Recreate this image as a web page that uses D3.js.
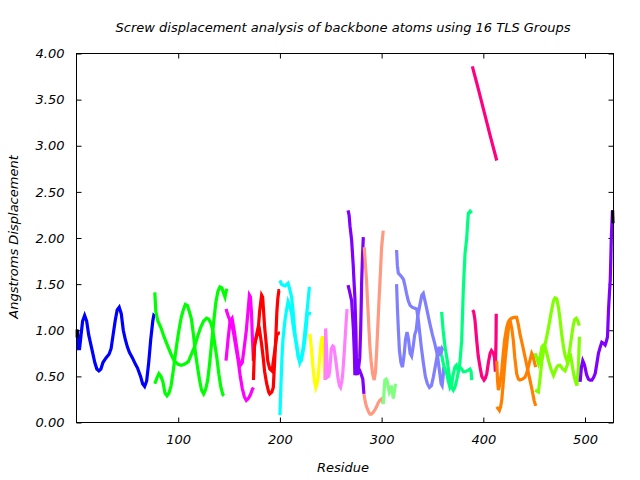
<!DOCTYPE html>
<html><head><meta charset="utf-8">
<script src="https://cdn.jsdelivr.net/npm/d3@7"></script>
<style>
html,body{margin:0;padding:0;background:#fff;}
text{font-family:"DejaVu Sans",sans-serif;font-style:italic;fill:#000;}
</style></head>
<body><svg id="c" width="640" height="480"></svg>
<script>
// ---- data (residue, displacement in Angstroms) ----
const titleText = "Screw displacement analysis of backbone atoms using 16 TLS Groups";
const xLabel = "Residue";
const yLabel = "Angstroms Displacement";
const xTicks = [100, 200, 300, 400, 500];
const yTicks = [0, 0.5, 1, 1.5, 2, 2.5, 3, 3.5, 4];
const groupColors = ["#0000ff","#00ff00","#ff00ff","#ff0000","#00ffff","#ffff00","#ff80ff","#8000ff",
  "#ff9980","#80ff80","#8080ff","#00ff80","#ff0080","#ff8000","#80ff00","#8000ff"];

const g1a = [[1,1.0],[2,0.8],[3,0.8],[4,0.9],[6,1.1],[8,1.16],[10,1.1],[12,0.95],[15,0.8],[18,0.65],[20,0.58],[22,0.56],[24,0.58],[26,0.65],[29,0.7],[32,0.74],[34,0.8],[36,0.95],[38,1.1],[40,1.22],[42,1.25],[44,1.18],[46,1.0],[48,0.9],[50,0.82],[52,0.76],[55,0.7],[58,0.63],[60,0.59],[63,0.5],[65,0.42],[67,0.39],[69,0.45],[71,0.65],[73,0.9],[75,1.1],[76,1.16],[77,1.15]];
const g2a = [[77,1.41],[78,1.2],[80,1.1],[83,1.03],[86,0.93],[90,0.82],[93,0.74],[96,0.67],[100,0.63],[103,0.62],[106,0.63],[110,0.66],[113,0.74],[116,0.82],[119,0.93],[122,1.03],[125,1.1],[128,1.13],[130,1.12],[132,1.08],[134,1.0],[136,0.85],[138,0.7],[140,0.52],[142,0.38],[144,0.3],[145,0.29]];
const g2b = [[77,0.42],[79,0.48],[81,0.53],[83,0.5],[85,0.44],[87,0.32],[89,0.29],[91,0.32],[93,0.4],[95,0.55],[97,0.72],[99,0.88],[101,1.02],[103,1.14],[105,1.22],[107,1.28],[109,1.27],[111,1.2],[113,1.12],[115,0.95],[117,0.75],[119,0.6],[121,0.46],[123,0.35],[125,0.31],[127,0.36],[129,0.46],[131,0.65],[133,0.88],[135,1.1],[137,1.3],[139,1.42],[141,1.47],[143,1.46],[144,1.42],[146,1.36],[147,1.42],[148,1.45]];
const g3a = [[147,1.23],[149,1.16],[151,1.1],[154,1.0],[157,0.8],[159,0.67],[161,0.5],[163,0.37],[165,0.28],[167,0.24],[169,0.26],[171,0.3],[173,0.36],[174,0.38]];
const g3b = [[147,0.67],[149,0.9],[151,1.1],[153,1.13],[155,1.0],[157,0.85],[159,0.7],[161,0.62],[163,0.65],[165,0.82],[167,1.0],[169,1.25],[170,1.38],[171,1.36],[172,1.2],[173,0.9],[174,0.67]];
const g4a = [[174,0.46],[175,0.82],[177,0.95],[179,1.05],[180,1.2],[182,1.38],[183,1.36],[184,1.2],[185,1.03],[187,0.8],[188,0.67],[190,0.58],[192,0.56],[193,0.62],[195,0.78],[197,0.95],[199,0.97],[200,0.97]];
const g4b = [[174,0.67],[175,0.85],[177,0.93],[179,0.98],[180,1.0],[182,0.85],[183.5,0.71],[185,0.55],[187,0.42],[189,0.33],[190,0.31],[192,0.33],[193.5,0.38],[195,0.7],[196,0.93],[197,1.2],[198,1.35],[199,1.43],[200,1.43]];
const g5a = [[200,0.08],[201,0.4],[202,0.7],[203,0.9],[205,1.11],[206.5,1.22],[208,1.31],[210,1.25],[211.5,1.18],[213,1.05],[215,0.92],[216.5,0.85],[218,0.72],[219.5,0.65],[221,0.7],[223,0.82],[224.5,0.98],[226,1.14],[227.5,1.3],[229,1.47]];
const g5b = [[200,1.54],[201.5,1.5],[203,1.49],[205,1.48],[208,1.51],[209.5,1.45],[211.5,1.36],[213,1.2],[214.5,1.0],[216,0.85],[218,0.71],[220,0.66],[221,0.67],[223,0.78],[224.5,0.89],[226,1.05],[227,1.18],[229,1.18],[229.5,1.2]];
const g6a = [[229.5,0.96],[231,0.8],[232.5,0.6],[234,0.45],[235.3,0.38],[236.5,0.42],[237.6,0.49],[239,0.68],[240.5,0.88],[241.5,0.92],[242.5,0.92],[243.2,0.7],[244,0.46]];
const g7a = [[244.5,0.46],[245,1.02],[246,0.75],[246.6,0.49],[248,0.5],[249,0.56],[250.5,0.8],[252,0.83],[253,0.82],[255,0.67],[257,0.49],[258.5,0.4],[259.6,0.38],[261,0.45],[262,0.56],[263.5,0.8],[265,1.07],[266,1.23]];
const g8a = [[267,2.30],[268,2.25],[269,2.12],[270.5,1.98],[272,1.72],[273,1.5],[273.7,1.36],[274.7,1.0],[275.2,0.7],[275.5,0.53],[276.5,0.53],[277.5,0.55],[278.6,0.56],[280,0.52],[281.5,0.47],[282,0.4],[282.6,0.31]];
const g8b = [[267,1.49],[268.5,1.42],[270.5,1.32],[271.5,1.15],[272.3,1.0],[273.2,0.75],[273.7,0.53],[275,0.53],[277,0.56],[278.5,0.7],[279.4,1.0],[280,1.3],[280.4,1.54],[281.2,1.8],[282,2.01]];
const g9a = [[283,1.9],[284,1.72],[285.2,1.54],[286,1.35],[286.8,1.18],[287.6,1.0],[288.5,0.82],[289.8,0.65],[291.1,0.53],[292.7,0.46],[294,0.55],[295,0.75],[296.3,1.05],[297.6,1.36],[298.8,1.62],[300,1.9],[301.6,2.08]];
const g9b = [[282.6,0.31],[284,0.22],[285.2,0.17],[287,0.12],[288.5,0.09],[290,0.09],[291.7,0.11],[293.5,0.14],[295,0.17],[296.5,0.21],[298.2,0.24],[300.5,0.26],[301.6,0.2]];
const g10a = [[301.6,0.2],[302.5,0.35],[303.2,0.46],[304.5,0.47],[305.5,0.45],[306.5,0.38],[307.5,0.33],[308.5,0.36],[309.5,0.4],[310.5,0.33],[311.5,0.26],[312.5,0.33],[313.7,0.42]];
const g11a = [[314.7,1.87],[315.5,1.7],[316.4,1.62],[318,1.6],[319.7,1.58],[321.5,1.55],[323,1.48],[324.5,1.4],[326.2,1.32],[328,1.27],[330,1.25],[332,1.24],[334.5,1.23],[336,1.12],[337.5,0.97],[339,0.82],[341,0.65],[343,0.5],[345,0.42],[347,0.38],[349,0.4],[351,0.5],[353,0.62],[355,0.75],[356.5,0.82],[358,0.72],[359.5,0.8],[360.5,0.78]];
const g11b = [[314.7,1.5],[315.5,1.25],[316.5,1.0],[317.5,0.78],[319,0.65],[320.5,0.6],[322,0.72],[323.5,0.9],[325,0.98],[326.5,0.9],[328,0.75],[329.5,0.72],[331,0.82],[332.5,0.95],[334,1.0],[335.5,1.15],[337.7,1.28],[339.5,1.38],[341,1.4],[344,1.25],[347.5,1.07],[350,0.95],[352.4,0.85],[355,0.72],[357,0.55],[358.5,0.42],[359.5,0.4],[360.5,0.5],[361,0.6]];
const g12a = [[359,1.2],[360.5,1.0],[362.3,0.82],[364.6,0.67],[366,0.55],[367.2,0.46],[369,0.38],[370.5,0.35],[372,0.38],[373.8,0.46],[375.5,0.55],[377,0.65],[378.7,0.89],[379.5,1.15],[380.3,1.43],[381,1.6],[382,1.83],[383.7,2.0],[384.5,2.15],[385.3,2.27],[387,2.29],[388.6,2.27]];
const g12b = [[359,0.73],[361,0.62],[364,0.53],[365.5,0.45],[367.2,0.38],[369,0.42],[370,0.5],[372,0.6],[373.5,0.62],[375.3,0.56],[377,0.6],[378.7,0.58],[380.3,0.55],[382,0.55],[384,0.56],[386.9,0.58],[388,0.55],[388.6,0.46]];
const g13a = [[389.2,3.86],[395,3.62],[401,3.36],[407,3.1],[413.2,2.84]];
const g13b = [[389.5,1.22],[390.5,1.2],[391.8,1.11],[393.5,0.89],[395,0.72],[396.8,0.6],[398.5,0.5],[400.7,0.46],[402,0.48],[403.4,0.53],[405,0.65],[406.7,0.75],[408,0.78],[410,0.75],[411,0.7],[411.8,0.55],[412.5,0.9],[412.7,1.18]];
const g14a = [[413.2,0.67],[414,0.45],[414.8,0.35],[416,0.4],[418,0.55],[419.6,0.75],[421,0.9],[423,1.03],[424.5,1.09],[426.2,1.11],[428,1.02],[429.5,0.89],[431,0.7],[432.8,0.53],[434.5,0.47],[436,0.46],[438.5,0.47],[441,0.49],[442.5,0.53],[444.2,0.6],[446,0.68],[447.6,0.75],[449,0.72],[450.5,0.64],[451.5,0.6]];
const g14b = [[413.2,0.17],[414.5,0.15],[415.8,0.13],[417,0.17],[418.1,0.24],[419.5,0.42],[421.4,0.67],[423.5,0.9],[425.6,1.11],[428,1.13],[430,1.14],[432.8,1.14],[434.5,1.06],[436,0.96],[438.5,0.84],[441,0.71],[443.5,0.58],[445.9,0.46],[448,0.35],[449.9,0.24],[451.5,0.18]];
const g15a = [[450.9,0.75],[452.5,0.7],[454.2,0.64],[456,0.72],[457.6,0.82],[459,0.84],[460.8,0.85],[462.5,0.94],[464.1,1.03],[466.5,1.18],[469,1.32],[470.5,1.35],[472.2,1.34],[474,1.24],[475.5,1.11],[477,0.96],[478.8,0.82],[480.5,0.72],[482.2,0.67],[484,0.73],[485.4,0.82],[487,0.95],[488.7,1.07],[490,1.12],[491.4,1.13],[493,1.1],[494.3,1.05]];
const g15b = [[450.9,0.35],[452.5,0.34],[454.2,0.33],[456,0.5],[457.6,0.67],[459,0.76],[460.8,0.82],[462.5,0.75],[464.1,0.67],[466.5,0.58],[469,0.51],[470.5,0.55],[472.2,0.6],[474,0.62],[475.5,0.62],[478,0.58],[480.4,0.56],[482.5,0.62],[485.4,0.75],[487,0.65],[488.7,0.53],[490.5,0.45],[492,0.4],[493.5,0.6],[494.5,0.93]];
const g16a = [[495.2,0.44],[496.5,0.6],[497.8,0.67],[499,0.64],[500,0.6],[501.5,0.52],[503.3,0.47],[505,0.46],[506.7,0.46],[508.5,0.49],[510,0.53],[511.5,0.63],[513.2,0.75],[515,0.82],[516.5,0.87],[518,0.86],[519.8,0.84],[521,0.88],[522.1,0.93],[523.1,1.22],[524,1.4],[524.8,1.54],[525.3,1.75],[525.8,1.98],[526.4,2.15],[527,2.30]];
const blackStart = [[0.6,1.01],[0.6,0.92]];
const blackEnd = [[527.2,2.30],[527.6,2.16]];

const groups = [[g1a],[g2a,g2b],[g3a,g3b],[g4a,g4b],[g5a,g5b],[g6a],[g7a],[g8a,g8b],[g9a,g9b],[g10a],[g11a,g11b],[g12a,g12b],[g13a,g13b],[g14a,g14b],[g15a,g15b],[g16a]];

// ---- layout ----
const L = 76.5, R = 613.5, T = 53.5, B = 422.5;
const svg = d3.select("#c");
const x = d3.scaleLinear().domain([0, 528]).range([L, R]);
const y = d3.scaleLinear().domain([0, 4]).range([B, T]);
const fs = 13;

// axes with inward ticks (mirrored)
const tk = 5;
svg.append("g").attr("transform", `translate(0,${B})`)
  .call(d3.axisBottom(x).tickValues(xTicks).tickSizeInner(-tk).tickSizeOuter(0).tickPadding(12).tickFormat(d3.format("d")))
  .call(g => { g.select(".domain").remove(); g.selectAll("text").attr("font-size", fs).attr("font-family", null); });
svg.append("g").attr("transform", `translate(0,${T})`)
  .call(d3.axisTop(x).tickValues(xTicks).tickSizeInner(-tk).tickSizeOuter(0).tickFormat(""))
  .call(g => g.select(".domain").remove());
svg.append("g").attr("transform", `translate(${L},0)`)
  .call(d3.axisLeft(y).tickValues(yTicks).tickSizeInner(-tk).tickSizeOuter(0).tickPadding(12).tickFormat(d3.format(".2f")))
  .call(g => { g.select(".domain").remove(); g.selectAll("text").attr("font-size", fs).attr("font-family", null); });
svg.append("g").attr("transform", `translate(${R},0)`)
  .call(d3.axisRight(y).tickValues(yTicks).tickSizeInner(-tk).tickSizeOuter(0).tickFormat(""))
  .call(g => g.select(".domain").remove());
svg.selectAll(".tick line").attr("stroke", "#000");

// data lines
const line = d3.line().x(d => x(d[0])).y(d => y(d[1]));
const plot = svg.append("g");
groups.forEach((traces, i) => {
  traces.forEach(t => {
    plot.append("path").attr("d", line(t)).attr("fill", "none")
      .attr("stroke", groupColors[i]).attr("stroke-width", 3.2).attr("stroke-linejoin", "miter");
  });
});
[blackStart, blackEnd].forEach(t => plot.append("path").attr("d", line(t)).attr("fill", "none").attr("stroke", "#000").attr("stroke-width", 3));

// border
svg.append("rect").attr("x", L).attr("y", T).attr("width", R - L).attr("height", B - T)
  .attr("fill", "none").attr("stroke", "#000").attr("stroke-width", 1);

// texts
svg.append("text").attr("x", 343).attr("y", 32).attr("text-anchor", "middle").attr("font-size", fs).text(titleText);
svg.append("text").attr("x", 343).attr("y", 472).attr("text-anchor", "middle").attr("font-size", fs).text(xLabel);
svg.append("text").attr("transform", "translate(18,237) rotate(-90)").attr("text-anchor", "middle").attr("font-size", fs).text(yLabel);
</script></body></html>
